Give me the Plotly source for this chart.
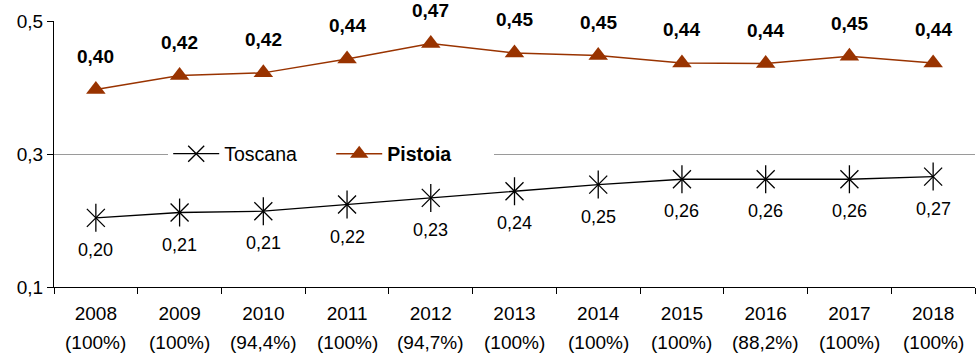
import plotly.graph_objects as go

years = ["2008", "2009", "2010", "2011", "2012", "2013", "2014", "2015", "2016", "2017", "2018"]
coverage = ["100%", "100%", "94,4%", "100%", "94,7%", "100%", "100%", "100%", "88,2%", "100%", "100%"]
toscana = [0.204, 0.212, 0.214, 0.224, 0.234, 0.244, 0.254, 0.262, 0.262, 0.262, 0.266]
pistoia = [0.397, 0.418, 0.422, 0.443, 0.466, 0.452, 0.448, 0.437, 0.436, 0.447, 0.437]
y_ticks = [0.1, 0.3, 0.5]

FONT = "Arial, Liberation Sans, sans-serif"
BROWN = "#993300"

def fmt(v):
    return f"{v:.2f}".replace(".", ",")

fig = go.Figure()
fig.add_trace(go.Scatter(
    x=years, y=toscana, mode="lines+markers", name="Toscana",
    line=dict(color="black", width=1.3),
    marker=dict(symbol="x-thin-open", size=18, color="black", line=dict(color="black", width=1.3)),
))
fig.add_trace(go.Scatter(
    x=years, y=toscana, mode="markers", showlegend=False, hoverinfo="skip",
    marker=dict(symbol="line-ns-open", size=20, color="black", line=dict(color="black", width=1.3)),
))
fig.add_trace(go.Scatter(
    x=years, y=pistoia, mode="lines+markers", name="<b>Pistoia</b>",
    line=dict(color=BROWN, width=1.5),
    marker=dict(symbol="triangle-up", size=17, color=BROWN),
))

for i, v in enumerate(pistoia):
    fig.add_annotation(x=i, y=v, text=f"<b>{fmt(v)}</b>", showarrow=False, yshift=33,
                       bgcolor="white", borderpad=0,
                       font=dict(family=FONT, size=19, color="black"))
for i, v in enumerate(toscana):
    fig.add_annotation(x=i, y=v, text=fmt(v), showarrow=False, yshift=-32,
                       bgcolor="white", borderpad=0,
                       font=dict(family=FONT, size=18, color="black"))
for i, cov in enumerate(coverage):
    fig.add_annotation(x=i, xref="x", y=0, yref="paper", text=f"({cov})", showarrow=False,
                       yanchor="middle", yshift=-55,
                       font=dict(family=FONT, size=19, color="black"))

fig.update_layout(
    width=976, height=354,
    margin=dict(l=54, r=1, t=21, b=67),
    paper_bgcolor="white", plot_bgcolor="white",
    font=dict(family=FONT, size=18, color="black"),
    showlegend=True,
    legend=dict(orientation="h", x=0.124, xanchor="left", y=0.5, yanchor="middle",
                bgcolor="white", font=dict(family=FONT, size=19.5, color="black"),
                itemwidth=46, entrywidth=102, entrywidthmode="pixels"),
)
fig.update_xaxes(
    type="category", range=[-0.5, 10.5], showgrid=False, showline=True,
    linecolor="black", linewidth=1,
    ticks="outside", tickson="boundaries", ticklen=6, tickcolor="black",
    ticklabelstandoff=9,
    tickfont=dict(family=FONT, size=19, color="black"),
)
fig.update_yaxes(
    range=[0.1, 0.5], tickvals=y_ticks, ticktext=[fmt(v)[:-1] for v in y_ticks],
    showgrid=True, gridcolor="#9a9a9a", gridwidth=1,
    showline=True, linecolor="black", linewidth=1, zeroline=False,
    ticks="outside", ticklen=6, tickcolor="black",
    tickfont=dict(family=FONT, size=19, color="black"),
)

fig.write_html("out.html", config={"displayModeBar": False},
               post_script="document.body.style.margin='0';document.body.style.overflow='hidden';")
